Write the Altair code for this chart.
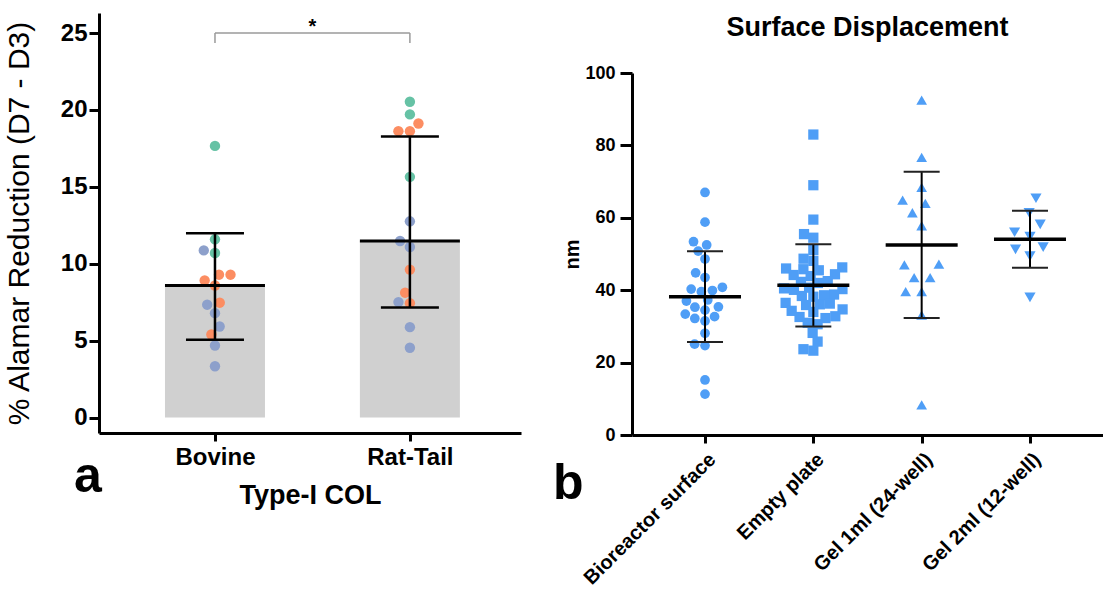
import json
import math
import altair as alt
import numpy as np
import pandas as pd

FONT = "Liberation Sans"

# ---------------- data: panel a ----------------
left_groups = ["Bovine", "Rat-Tail"]
donor_names = ["Donor 1", "Donor 2", "Donor 3"]
donor_colors = ["#66c2a5", "#fc8d62", "#8da0cb"]

bovine_values = [17.66, 11.59, 10.87, 10.70, 9.29, 9.29, 8.92, 8.59, 7.47, 7.34, 6.79, 5.92, 5.40, 4.69, 3.34]
bovine_donor = ["Donor 1", "Donor 1", "Donor 3", "Donor 1", "Donor 2", "Donor 2", "Donor 2", "Donor 2",
                "Donor 2", "Donor 3", "Donor 3", "Donor 3", "Donor 2", "Donor 3", "Donor 3"]
rattail_values = [20.53, 19.71, 19.12, 18.62, 18.62, 15.65, 12.76, 11.48, 11.09, 9.62, 8.12, 7.44, 7.51, 5.88, 4.54]
rattail_donor = ["Donor 1", "Donor 1", "Donor 2", "Donor 2", "Donor 2", "Donor 1", "Donor 3", "Donor 3",
                 "Donor 3", "Donor 2", "Donor 2", "Donor 2", "Donor 3", "Donor 3", "Donor 3"]
sig_level = 25
sig_text = "*"

# ---------------- data: panel b ----------------
right_title = "Surface Displacement"
right_categories = ["Bioreactor surface", "Empty plate", "Gel 1ml (24-well)", "Gel 2ml (12-well)"]
right_shapes = ["circle", "square", "triangle-up", "triangle-down"]
bio_values = [67.0, 58.8, 53.4, 52.5, 50.8, 48.6, 44.8, 43.5, 40.8, 40.3, 39.9, 39.6, 37.3, 37.0, 35.4,
              35.3, 34.5, 33.4, 32.7, 32.2, 31.5, 28.1, 25.1, 24.7, 15.2, 11.3]
empty_values = [83.0, 69.0, 59.5, 55.5, 54.5, 51.1, 48.7, 48.1, 46.3, 46.0, 45.8, 45.5, 44.4, 44.2, 43.9,
                42.5, 42.3, 42.0, 40.7, 40.5, 40.3, 40.1, 38.8, 38.6, 38.4, 38.2, 36.5, 36.3, 36.1, 35.9,
                34.7, 34.3, 34.0, 32.8, 32.6, 32.3, 31.0, 30.6, 28.2, 25.8, 23.7, 23.3]
gel1_values = [92.5, 76.7, 68.4, 64.9, 64.0, 61.4, 57.8, 47.2, 47.0, 43.5, 43.5, 39.6, 39.6, 33.1, 8.3]
gel2_values = [65.4, 61.4, 58.2, 56.0, 54.8, 51.9, 51.3, 49.4, 38.0]

# ---------------- layout constants ----------------
LW, LH = 422, 420
L_XDOM = [-0.595, 1.57]
L_YDOM = [-1, 26.3]
RW, RH = 471, 362
R_XDOM = [-0.674, 3.674]
R_YDOM = [0, 100]


def swarm(vals, px_per_unit, d):
    """Deterministic beeswarm: returns pixel offsets."""
    vals = list(vals)
    order = np.argsort(vals, kind="stable")
    placed = []
    offs = [0.0] * len(vals)
    for i in order:
        y = vals[i] * px_per_unit
        near = [(px, py) for px, py in placed if abs(py - y) < d]
        cands = [0.0]
        for px, py in near:
            dx = math.sqrt(max(d * d - (py - y) ** 2, 0))
            cands += [px - dx, px + dx]
        cands.sort(key=lambda c: (round(abs(c), 6), c))
        for c in cands:
            if all((c - px) ** 2 + (y - py) ** 2 >= d * d - 1e-6 for px, py in near):
                offs[i] = c
                placed.append((c, y))
                break
    return offs


# ---------------- panel a frame ----------------
l_step = LW / (L_XDOM[1] - L_XDOM[0])
l_ppu = LH / (L_YDOM[1] - L_YDOM[0])
rows = []
for gi, (vals, donors) in enumerate([(bovine_values, bovine_donor), (rattail_values, rattail_donor)]):
    offs = swarm(vals, l_ppu, 11.5)
    for v, dn, o in zip(vals, donors, offs):
        rows.append({"group": left_groups[gi], "idx": gi, "value": v, "donor": dn, "off": o / l_step})
left_df = pd.DataFrame(rows)

BAR_HALF = 50 / l_step
CAP_HALF = 29 / l_step

left_x_axis = alt.Axis(values=[0, 1], labelExpr=f"{json.dumps(left_groups)}[datum.value]",
                       title="Type-I COL", grid=False, labelFontSize=24, labelFontWeight="bold",
                       titleFontSize=27, titleFontWeight="bold", labelPadding=4, titlePadding=13,
                       tickSize=8, tickWidth=3, domainWidth=3)
left_y_axis = alt.Axis(values=[0, 5, 10, 15, 20, 25], title="% Alamar Reduction (D7 - D3)", grid=False,
                       labelFontSize=24, labelFontWeight="bold", titleFontSize=30, titleFontWeight="normal",
                       labelPadding=2, titlePadding=26, tickSize=10, tickWidth=3, domainWidth=3)


def lx(field):
    return alt.X(f"{field}:Q", scale=alt.Scale(domain=L_XDOM, nice=False, zero=False), axis=left_x_axis)


def ly(field):
    return alt.Y(f"{field}:Q", scale=alt.Scale(domain=L_YDOM, nice=False, zero=False), axis=left_y_axis)


base_l = alt.Chart(left_df)
med_l = base_l.transform_aggregate(med="median(value)", groupby=["idx"]).transform_calculate(
    xa=f"datum.idx - {BAR_HALF}", xb=f"datum.idx + {BAR_HALF}")
bars = med_l.mark_bar(color="#d0d0d0").encode(x=lx("xa"), x2="xb:Q", y=ly("med"), y2=alt.datum(0))
med_line = med_l.mark_rule(color="black", strokeWidth=3).encode(x=lx("xa"), x2="xb:Q", y=ly("med"))
pts_l = base_l.transform_calculate(xpos="datum.idx + datum.off").mark_circle(size=108, opacity=1).encode(
    x=lx("xpos"), y=ly("value"),
    color=alt.Color("donor:N", scale=alt.Scale(domain=donor_names, range=donor_colors), legend=None))
sd_l = base_l.transform_aggregate(m="mean(value)", s="stdev(value)", groupby=["idx"]).transform_calculate(
    lo="datum.m - datum.s", hi="datum.m + datum.s")
err_l = sd_l.mark_rule(color="black", strokeWidth=2.5).encode(x=lx("idx"), y=ly("lo"), y2="hi:Q")
caps_l = sd_l.transform_fold(["lo", "hi"], as_=["end", "level"]).transform_calculate(
    xa=f"datum.idx - {CAP_HALF}", xb=f"datum.idx + {CAP_HALF}").mark_rule(color="black", strokeWidth=2.5).encode(
    x=lx("xa"), x2="xb:Q", y=ly("level"))

br_df = pd.DataFrame({"xa": [0], "xb": [1], "level": [sig_level], "mid": [0.5], "t": [sig_text]})
legs_df = pd.DataFrame({"x": [0, 1], "level": [sig_level] * 2, "low": [sig_level - 0.65] * 2})
br_h = alt.Chart(br_df).mark_rule(color="#9a9a9a", strokeWidth=1.5).encode(x=lx("xa"), x2="xb:Q", y=ly("level"))
br_v = alt.Chart(legs_df).mark_rule(color="#9a9a9a", strokeWidth=1.5).encode(x=lx("x"), y=ly("level"), y2="low:Q")
star = alt.Chart(br_df).mark_text(fontSize=20, fontWeight="bold", font=FONT, baseline="alphabetic", dy=0).encode(
    x=lx("mid"), y=ly("level"), text="t:N")
a_lab = alt.Chart(pd.DataFrame({"t": ["a"]})).mark_text(fontSize=50, fontWeight="bold", font=FONT, align="left",
                                                        baseline="alphabetic").encode(
    text="t:N", x=alt.value(-25), y=alt.value(479))

left = alt.layer(bars, pts_l, err_l, caps_l, med_line, br_h, br_v, star, a_lab).properties(width=LW, height=LH)

# ---------------- panel b frame ----------------
r_step = RW / (R_XDOM[1] - R_XDOM[0])
r_ppu = RH / (R_YDOM[1] - R_YDOM[0])
spacing_px = [10.5, 10, 16, 16]
rows = []
for ci, vals in enumerate([bio_values, empty_values, gel1_values, gel2_values]):
    offs = swarm(vals, r_ppu, spacing_px[ci])
    for v, o in zip(vals, offs):
        rows.append({"cat": right_categories[ci], "idx": ci, "value": v, "off": o / r_step})
right_df = pd.DataFrame(rows)

MEAN_HALF = 36 / r_step
RCAP_HALF = 18 / r_step

right_x_axis = alt.Axis(values=[0, 1, 2, 3], labelExpr=f"{json.dumps(right_categories)}[datum.value]",
                        title=None, grid=False, labelFontSize=20, labelFontWeight="bold", labelAngle=-45,
                        labelOverlap=False, labelLimit=400, labelPadding=6, tickSize=8, tickWidth=3,
                        domainWidth=3)
right_y_axis = alt.Axis(values=[0, 20, 40, 60, 80, 100], title="nm", grid=False, labelFontSize=18,
                        labelFontWeight="bold", titleFontSize=20, titleFontWeight="bold", labelPadding=5,
                        titlePadding=2, tickSize=12, tickWidth=3, domainWidth=3)


def rx(field):
    return alt.X(f"{field}:Q", scale=alt.Scale(domain=R_XDOM, nice=False, zero=False), axis=right_x_axis)


def ry(field):
    return alt.Y(f"{field}:Q", scale=alt.Scale(domain=R_YDOM, nice=False, zero=False), axis=right_y_axis)


base_r = alt.Chart(right_df)
pts_r = base_r.transform_calculate(xpos="datum.idx + datum.off").mark_point(
    filled=True, opacity=1, color="#4f9ef6").encode(
    x=rx("xpos"), y=ry("value"),
    shape=alt.Shape("cat:N", scale=alt.Scale(domain=right_categories, range=right_shapes), legend=None),
    size=alt.Size("cat:N", scale=alt.Scale(domain=right_categories, range=[95, 125, 140, 140]), legend=None))
sd_r = base_r.transform_aggregate(m="mean(value)", s="stdev(value)", groupby=["idx"]).transform_calculate(
    lo="datum.m - datum.s", hi="datum.m + datum.s",
    ma=f"datum.idx - {MEAN_HALF}", mb=f"datum.idx + {MEAN_HALF}")
err_r = sd_r.mark_rule(color="black", strokeWidth=2).encode(x=rx("idx"), y=ry("lo"), y2="hi:Q")
mean_r = sd_r.mark_rule(color="black", strokeWidth=3.5).encode(x=rx("ma"), x2="mb:Q", y=ry("m"))
caps_r = sd_r.transform_fold(["lo", "hi"], as_=["end", "level"]).transform_calculate(
    xa=f"datum.idx - {RCAP_HALF}", xb=f"datum.idx + {RCAP_HALF}").mark_rule(color="#222222", strokeWidth=2).encode(
    x=rx("xa"), x2="xb:Q", y=ry("level"))
b_lab = alt.Chart(pd.DataFrame({"t": ["b"]})).mark_text(fontSize=50, fontWeight="bold", font=FONT, align="left",
                                                        baseline="alphabetic").encode(
    text="t:N", x=alt.value(-79), y=alt.value(426))

right_plot = alt.layer(pts_r, err_r, caps_r, mean_r, b_lab).properties(width=RW, height=RH)
title_chart = alt.Chart(pd.DataFrame({"t": [right_title]})).mark_text(
    fontSize=27, fontWeight="bold", font=FONT, align="center", baseline="middle").encode(
    text="t:N", x=alt.value(RW / 2), y=alt.value(15)).properties(width=RW, height=40)
right = alt.vconcat(title_chart, right_plot, spacing=11)

chart = alt.hconcat(left, right, spacing=32).properties(
    padding={"left": 4, "top": 13, "right": 0, "bottom": 0}
).configure_view(strokeWidth=0).configure_axis(
    labelFont=FONT, titleFont=FONT, labelColor="black", titleColor="black", domainColor="black", tickColor="black"
).configure_text(font=FONT)

chart.save("out.html", embed_options={"renderer": "svg", "actions": False})
